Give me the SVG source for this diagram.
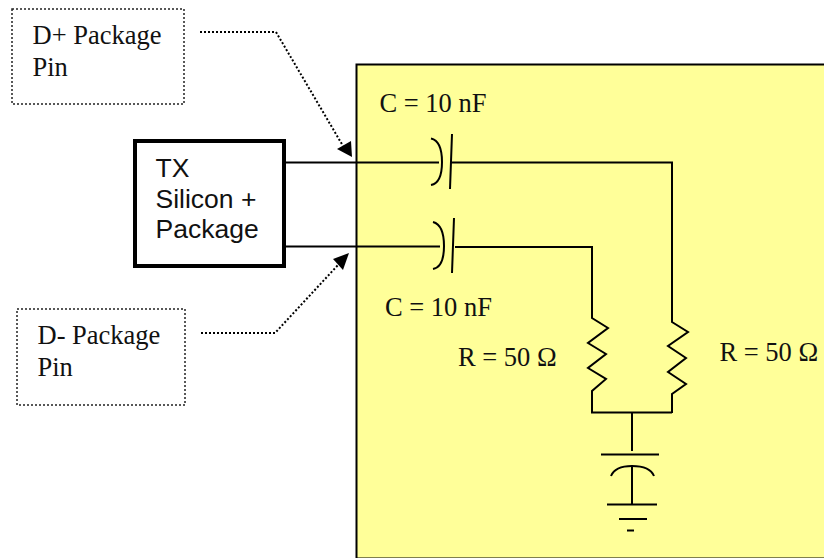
<svg xmlns="http://www.w3.org/2000/svg" width="824" height="558" viewBox="0 0 824 558">
<style>
.serif{font-family:"Liberation Serif","Times New Roman",serif;font-size:26.5px;fill:#111}
.sans{font-family:"Liberation Sans",Arial,sans-serif;font-size:26.5px;fill:#111}
.w{fill:none;stroke:#000;stroke-width:2;stroke-linejoin:miter}
.d{fill:none;stroke:#000;stroke-width:2;stroke-dasharray:2 2}
.b{fill:none;stroke:#222;stroke-width:1.5;stroke-dasharray:2 2}
</style>
<rect width="824" height="558" fill="#fff"/>
<g id="board"><rect x="356.5" y="64.5" width="470" height="494" fill="#ffff99" stroke="#000" stroke-width="2"/></g>
<g id="connectors">
<path class="w" d="M286 162.500H439M286 246.500H440"/>
<path class="w" d="M451 162.500H672V322L688 332L668 346L686 358L668 372L686 384L672 394V413"/>
<path class="w" d="M455 247H592V318L608 328L588 343L606 354L588 368L606 379L592 391V412.500H672"/>
<path class="w" d="M632 413V451M601 454.500H659M632 466V505M607 504.500H657M619 519H647M627 530.500H634"/>
<path class="w" d="M611 476Q615 466 632 466Q650 466 654 476"/>
<path class="w" d="M431 138.500Q442 141 442 162Q442 183 431 185M452 134L450 189"/>
<path class="w" d="M433 222Q444 225 444 246Q444 267 433 269M454 218L452 273"/>
<path class="d" d="M200 32H276L343 146"/>
<path d="M352 157L337 149L351 141Z"/>
<path class="d" d="M201 333H275L338 265"/>
<path d="M349 253L333 259L343 270Z"/>
</g>
<g id="d-plus-pin"><rect class="b" x="12" y="9" width="172" height="95"/><text class="serif" x="32.500" y="44">D+ Package</text><text class="serif" x="32.500" y="76">Pin</text></g>
<g id="d-minus-pin"><rect class="b" x="17" y="309" width="168" height="96"/><text class="serif" x="37.500" y="344">D- Package</text><text class="serif" x="37.500" y="376">Pin</text></g>
<g id="tx"><rect x="135" y="141" width="149" height="125" fill="#fff" stroke="#000" stroke-width="4"/><text class="sans" x="155.500" y="177">TX</text><text class="sans" x="155.500" y="208">Silicon +</text><text class="sans" x="155.500" y="238">Package</text></g>
<g id="labels">
<text class="serif" x="379.500" y="112">C = 10 nF</text>
<text class="serif" x="385" y="316">C = 10 nF</text>
<text class="serif" x="458" y="366">R = 50 Ω</text>
<text class="serif" x="719.500" y="361">R = 50 Ω</text>
</g>
</svg>
